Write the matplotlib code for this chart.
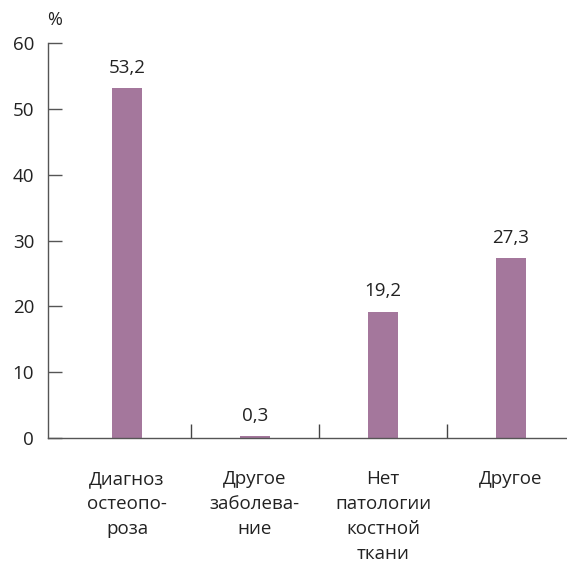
import matplotlib.pyplot as plt

categories = ["Диагноз\nостеопо-\nроза", "Другое\nзаболева-\nние", "Нет\nпатологии\nкостной\nткани", "Другое"]
values = [53.2, 0.3, 19.2, 27.3]
value_labels = ["53,2", "0,3", "19,2", "27,3"]
yticks = [0, 10, 20, 30, 40, 50, 60]

plt.rcParams['font.family'] = ['Open Sans', 'DejaVu Sans']
plt.rcParams['font.size'] = 13

fig = plt.figure(figsize=(5.67, 5.67), dpi=100)
ax = fig.add_axes([48 / 567, 129 / 567, 1 - 48 / 567, 395 / 567])

x = list(range(len(values)))
ax.bar(x, values, width=0.24, color='#a4779c')

for xi, v, lab in zip(x, values, value_labels):
    ax.annotate(lab, (xi, v), xytext=(0, 8), textcoords='offset points',
                ha='center', va='bottom', fontsize=13.5, color='#222222')

ax.set_xlim(-0.617, 3.4375)
ax.set_ylim(0, 60)

for s in ['top', 'right']:
    ax.spines[s].set_visible(False)
for s in ['left', 'bottom']:
    ax.spines[s].set_color('#555555')
    ax.spines[s].set_linewidth(1.0)

ax.set_yticks(yticks)
ax.tick_params(axis='y', direction='in', length=10, width=1, color='#555555',
               pad=10, labelsize=13.5, labelcolor='#222222')

ax.set_xticks(x)
ax.set_xticklabels(categories, linespacing=1.5)
ax.tick_params(axis='x', which='major', length=0, pad=23, labelsize=13.5, labelcolor='#222222')
ax.set_xticks([0.5, 1.5, 2.5], minor=True)
ax.tick_params(axis='x', which='minor', direction='in', length=10, width=1, color='#444444')
for t in ax.get_xticklabels():
    t.set_verticalalignment('top')

fig.text(55 / 567, 1 - 20 / 567, "%", ha='center', va='center', fontsize=13, color='#222222')

fig.savefig('out.png', dpi=100)
